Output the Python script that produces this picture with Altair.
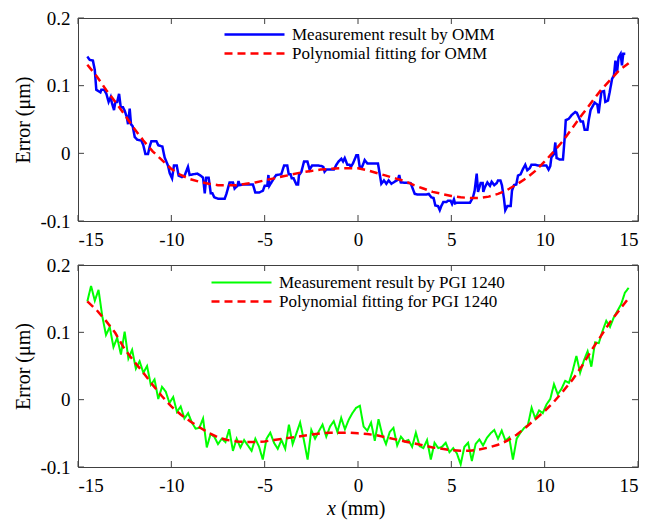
import altair as alt
import pandas as pd

x_ticks = [-15, -10, -5, 0, 5, 10, 15]
y_ticks = [-0.1, 0, 0.1, 0.2]

omm_name = "Measurement result by OMM"
omm_fit_name = "Polynomial fitting for OMM"
pgi_name = "Measurement result by PGI 1240"
pgi_fit_name = "Polynomial fitting for PGI 1240"

omm_x = [-14.50, -14.37, -14.20, -14.10, -14.02, -13.80, -13.75, -13.60, -13.48, -13.36,
         -13.25, -13.18, -13.07, -13.00, -12.90, -12.80, -12.71, -12.59, -12.50, -12.39,
         -12.32, -12.23, -12.16, -12.07, -11.96, -11.82, -11.61, -11.50, -11.39, -11.25,
         -11.16, -11.07, -10.80, -10.70, -10.48, -10.36, -10.18, -10.09, -9.96, -9.86,
         -9.71, -9.61, -9.43, -9.29, -9.11, -9.02, -8.84, -8.61, -8.43, -8.30,
         -8.21, -8.13, -8.00, -7.89, -7.80, -7.70, -7.50, -7.14, -7.05, -6.88,
         -6.70, -6.61, -6.46, -6.40, -6.34, -6.18, -5.63, -5.50, -5.29, -5.09,
         -5.00, -4.86, -4.80, -4.75, -4.46, -4.38, -4.11, -3.96, -3.79, -3.71,
         -3.61, -3.55, -3.45, -3.30, -3.21, -3.16, -3.04, -2.89, -2.71, -2.59,
         -2.46, -2.12, -1.93, -1.86, -1.79, -1.70, -1.29, -1.16, -1.04, -0.89,
         -0.80, -0.71, -0.57, -0.45, -0.38, -0.27, -0.09, 0.00, 0.09, 0.22,
         0.36, 0.50, 1.07, 1.25, 1.39, 1.52, 1.64, 1.79, 1.96, 2.14,
         2.21, 2.29, 2.82, 3.04, 3.21, 3.63, 3.79, 3.93, 4.05, 4.14,
         4.29, 4.38, 4.46, 4.57, 4.74, 4.82, 4.96, 5.04, 5.14, 5.20,
         5.29, 5.89, 6.00, 6.16, 6.25, 6.36, 6.43, 6.57, 6.68, 6.71,
         6.80, 6.93, 7.07, 7.16, 7.30, 7.43, 7.50, 7.63, 7.71, 7.82,
         7.89, 8.00, 8.18, 8.25, 8.36, 8.48, 8.57, 8.71, 8.84, 8.96,
         9.07, 9.20, 9.29, 9.50, 9.64, 9.91, 10.09, 10.21, 10.30, 10.36,
         10.50, 10.57, 10.64, 10.80, 10.98, 11.07, 11.13, 11.29, 11.46, 11.64,
         11.72, 11.82, 11.93, 12.05, 12.14, 12.29, 12.36, 12.46, 12.54, 12.68,
         12.82, 12.89, 13.04, 13.18, 13.25, 13.39, 13.48, 13.61, 13.71, 13.79,
         13.88, 13.96, 14.07, 14.14, 14.21, 14.32]
omm_y = [0.143, 0.138, 0.137, 0.123, 0.094, 0.090, 0.094, 0.094, 0.088, 0.076,
         0.083, 0.074, 0.064, 0.076, 0.076, 0.088, 0.068, 0.068, 0.063, 0.054,
         0.043, 0.066, 0.043, 0.040, 0.024, 0.020, 0.019, 0.012, -0.001, -0.001,
         0.010, 0.018, 0.018, 0.012, 0.010, -0.006, -0.018, -0.029, -0.037, -0.018,
         -0.018, -0.033, -0.035, -0.033, -0.020, -0.032, -0.031, -0.030, -0.033, -0.036,
         -0.059, -0.036, -0.036, -0.059, -0.059, -0.065, -0.067, -0.067, -0.060, -0.043,
         -0.043, -0.052, -0.048, -0.041, -0.047, -0.046, -0.046, -0.058, -0.058, -0.055,
         -0.048, -0.048, -0.032, -0.048, -0.035, -0.032, -0.031, -0.018, -0.018, -0.031,
         -0.031, -0.037, -0.037, -0.046, -0.046, -0.032, -0.028, -0.012, -0.012, -0.024,
         -0.018, -0.018, -0.019, -0.020, -0.027, -0.024, -0.024, -0.017, -0.012, -0.008,
         -0.012, -0.007, -0.017, -0.017, -0.020, -0.015, -0.003, -0.003, -0.020, -0.020,
         -0.010, -0.015, -0.015, -0.045, -0.040, -0.045, -0.040, -0.045, -0.042, -0.039,
         -0.032, -0.043, -0.044, -0.060, -0.061, -0.061, -0.060, -0.065, -0.066, -0.077,
         -0.078, -0.084, -0.078, -0.072, -0.072, -0.070, -0.070, -0.075, -0.068, -0.074,
         -0.073, -0.073, -0.073, -0.065, -0.055, -0.030, -0.057, -0.044, -0.044, -0.057,
         -0.050, -0.043, -0.048, -0.042, -0.047, -0.044, -0.040, -0.040, -0.047, -0.067,
         -0.084, -0.078, -0.078, -0.055, -0.047, -0.046, -0.033, -0.031, -0.023, -0.017,
         -0.025, -0.022, -0.017, -0.017, -0.018, -0.018, -0.018, -0.024, -0.019, -0.006,
         -0.001, 0.016, -0.007, -0.009, -0.009, 0.022, 0.049, 0.051, 0.057, 0.061,
         0.060, 0.054, 0.047, 0.047, 0.035, 0.035, 0.049, 0.064, 0.068, 0.075,
         0.072, 0.059, 0.091, 0.092, 0.076, 0.078, 0.090, 0.110, 0.115, 0.137,
         0.120, 0.142, 0.147, 0.130, 0.147, 0.147]

fit_x = [-14.5, -14.0, -13.5, -13.0, -12.5, -12.0, -11.5, -11.0, -10.5, -10.0,
         -9.5, -9.0, -8.5, -8.0, -7.5, -7.0, -6.5, -6.0, -5.5, -5.0,
         -4.5, -4.0, -3.5, -3.0, -2.5, -2.0, -1.5, -1.0, -0.5, 0.0,
         0.5, 1.0, 1.5, 2.0, 2.5, 3.0, 3.5, 4.0, 4.5, 5.0,
         5.5, 6.0, 6.5, 7.0, 7.5, 8.0, 8.5, 9.0, 9.5, 10.0,
         10.5, 11.0, 11.5, 12.0, 12.5, 13.0, 13.5, 14.0, 14.5]
omm_fit_y = [0.131, 0.114, 0.094, 0.076, 0.057, 0.037, 0.019, 0.003, -0.010, -0.023,
             -0.032, -0.038, -0.042, -0.045, -0.047, -0.047, -0.047, -0.045, -0.043, -0.040,
             -0.037, -0.034, -0.031, -0.028, -0.026, -0.024, -0.023, -0.022, -0.022, -0.022,
             -0.025, -0.029, -0.033, -0.037, -0.041, -0.047, -0.052, -0.057, -0.060, -0.063,
             -0.065, -0.066, -0.066, -0.064, -0.060, -0.054, -0.046, -0.037, -0.026, -0.012,
             0.003, 0.019, 0.038, 0.057, 0.075, 0.093, 0.108, 0.123, 0.133]

pgi_x = [round(-14.5 + 0.2 * i, 1) for i in range(146)]
pgi_y = [0.146, 0.169, 0.147, 0.163, 0.124, 0.096, 0.108, 0.078, 0.092, 0.067,
         0.101, 0.061, 0.074, 0.046, 0.057, 0.040, 0.050, 0.022, 0.030, 0.001,
         0.019, 0.012, -0.005, 0.004, -0.018, -0.010, -0.028, -0.020, -0.034, -0.043,
         -0.042, -0.028, -0.071, -0.051, -0.055, -0.066, -0.058, -0.063, -0.044, -0.076,
         -0.058, -0.071, -0.060, -0.068, -0.076, -0.058, -0.070, -0.089, -0.058, -0.049,
         -0.064, -0.073, -0.060, -0.073, -0.037, -0.066, -0.050, -0.034, -0.060, -0.089,
         -0.045, -0.058, -0.047, -0.037, -0.055, -0.040, -0.032, -0.048, -0.027, -0.044,
         -0.030, -0.020, -0.012, -0.009, -0.040, -0.046, -0.034, -0.061, -0.029, -0.052,
         -0.066, -0.048, -0.042, -0.068, -0.055, -0.062, -0.060, -0.070, -0.049, -0.069,
         -0.072, -0.060, -0.089, -0.064, -0.072, -0.070, -0.064, -0.078, -0.072, -0.080,
         -0.096, -0.070, -0.064, -0.091, -0.066, -0.059, -0.068, -0.057, -0.050, -0.045,
         -0.058, -0.046, -0.061, -0.056, -0.089, -0.058, -0.049, -0.042, -0.038, -0.012,
         -0.028, -0.016, -0.020, -0.007, 0.001, 0.023, 0.008, 0.016, 0.028, 0.025,
         0.043, 0.065, 0.040, 0.058, 0.072, 0.049, 0.085, 0.084, 0.102, 0.117,
         0.108, 0.122, 0.132, 0.142, 0.159, 0.166]
pgi_fit_y = [0.146, 0.133, 0.117, 0.099, 0.075, 0.057, 0.040, 0.022, 0.005, -0.010,
             -0.022, -0.032, -0.041, -0.049, -0.056, -0.060, -0.062, -0.063, -0.063, -0.062,
             -0.060, -0.058, -0.056, -0.054, -0.052, -0.050, -0.049, -0.049, -0.049, -0.050,
             -0.051, -0.053, -0.056, -0.059, -0.062, -0.065, -0.068, -0.071, -0.073, -0.075,
             -0.076, -0.076, -0.074, -0.071, -0.067, -0.061, -0.052, -0.041, -0.029, -0.017,
             -0.003, 0.013, 0.030, 0.050, 0.073, 0.094, 0.115, 0.133, 0.151]

W = 560
FONT = "Liberation Serif"
FRAME = "#404040"


def panel(mx, my, fx, fy, mname, fname, mcolor, mwidth, lx, ly, h, xlabel):
    df = pd.concat([
        pd.DataFrame({"x": mx, "y": my, "series": mname}),
        pd.DataFrame({"x": fx, "y": fy, "series": fname}),
    ], ignore_index=True)
    xs = alt.Scale(domain=[-15, 15], nice=False)
    ys = alt.Scale(domain=[-0.1, 0.2], nice=False)
    xa = alt.Axis(values=x_ticks, ticks=False, domain=False, grid=False,
                  labelExpr="'' + datum.value", labelPadding=9, title=None,
                  labelFont=FONT, labelFontSize=19, labelColor="black")
    ya = alt.Axis(values=y_ticks, ticks=False, domain=False, grid=False,
                  labelExpr="'' + datum.value", labelPadding=8,
                  labelFont=FONT, labelFontSize=19, labelColor="black",
                  title="Error (μm)", titlePadding=6, titleFont=FONT, titleFontSize=20,
                  titleFontWeight="normal", titleColor="black")
    dom = [mname, fname]
    leg = dict(title=None, orient="none", legendX=lx, legendY=ly, symbolType="stroke",
               symbolSize=3600, symbolStrokeWidth=2.5, labelFont=FONT, labelFontSize=17,
               labelColor="black", clipHeight=19, labelOffset=6, rowPadding=0, padding=0,
               labelLimit=400)
    lines = alt.Chart(df).mark_line(clip=True).encode(
        x=alt.X("x:Q", scale=xs, axis=xa),
        y=alt.Y("y:Q", scale=ys, axis=ya),
        color=alt.Color("series:N", scale=alt.Scale(domain=dom, range=[mcolor, "#ff0000"]),
                        legend=alt.Legend(**leg)),
        strokeDash=alt.StrokeDash("series:N", scale=alt.Scale(domain=dom, range=[[1, 0], [8, 5]]),
                                  legend=alt.Legend(**leg)),
        strokeWidth=alt.StrokeWidth("series:N", scale=alt.Scale(domain=dom, range=[mwidth, 2.5]),
                                    legend=None),
    )
    xt = pd.DataFrame({"t": x_ticks})
    yt = pd.DataFrame({"t": y_ticks})
    tb = alt.Chart(xt).mark_rule(color=FRAME, strokeWidth=1).encode(
        x=alt.X("t:Q", scale=xs, axis=xa), y=alt.value(h), y2=alt.value(h - 6))
    tt = alt.Chart(xt).mark_rule(color=FRAME, strokeWidth=1).encode(
        x=alt.X("t:Q", scale=xs, axis=xa), y=alt.value(0), y2=alt.value(6))
    tl = alt.Chart(yt).mark_rule(color=FRAME, strokeWidth=1).encode(
        y=alt.Y("t:Q", scale=ys, axis=ya), x=alt.value(0), x2=alt.value(6))
    tr = alt.Chart(yt).mark_rule(color=FRAME, strokeWidth=1).encode(
        y=alt.Y("t:Q", scale=ys, axis=ya), x=alt.value(W), x2=alt.value(W - 6))
    layers = [lines, tb, tt, tl, tr]
    if xlabel:
        tx = alt.Chart(pd.DataFrame({"t": ["x"]})).mark_text(
            font=FONT, fontSize=20, fontStyle="italic", align="left", baseline="middle",
            color="black").encode(x=alt.value(249), y=alt.value(h + 42), text="t:N")
        tm = alt.Chart(pd.DataFrame({"t": ["(mm)"]})).mark_text(
            font=FONT, fontSize=20, align="left", baseline="middle",
            color="black").encode(x=alt.value(263), y=alt.value(h + 42), text="t:N")
        layers += [tx, tm]
    return alt.layer(*layers).properties(width=W, height=h)


top = panel(omm_x, omm_y, fit_x, omm_fit_y, omm_name, omm_fit_name, "#0000ff", 2.5, 145, 7, 203, False)
bottom = panel(pgi_x, pgi_y, fit_x, pgi_fit_y, pgi_name, pgi_fit_name, "#00ff00", 2, 132, 8, 202, True)

chart = alt.vconcat(top, bottom, spacing=44, bounds="flush").resolve_scale(
    color="independent", strokeDash="independent", strokeWidth="independent",
    x="independent", y="independent",
).resolve_legend(color="independent", strokeDash="independent").properties(
    padding={"left": 5, "top": 0, "right": 5, "bottom": 0},
    background="white",
).configure(font=FONT).configure_view(stroke=FRAME, strokeWidth=1)

chart.save("out.html", embed_options={"renderer": "svg", "actions": False})
